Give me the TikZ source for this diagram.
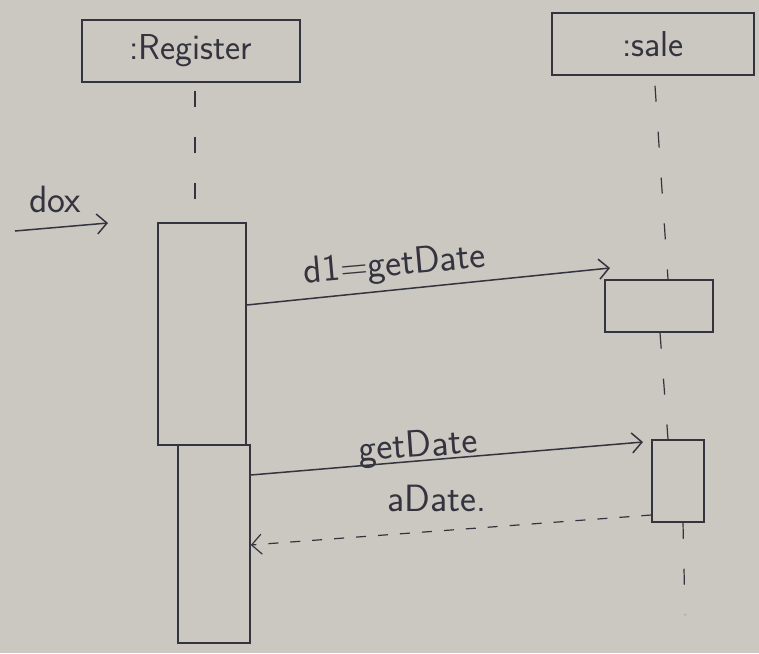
\documentclass[tikz,border=0pt]{standalone}
\usetikzlibrary{arrows.meta}
\definecolor{paper}{HTML}{CBC7C1}
\definecolor{ink}{HTML}{34343F}
\tikzset{
  ink/.style={draw=ink, line width=1.5pt},
  objbox/.style={ink, rectangle, inner sep=0pt, font=\sffamily\fontsize{36}{40}\selectfont, text=ink},
  actbar/.style={ink, rectangle, inner sep=0pt},
  msg/.style={draw=ink, line width=1.5pt, -{Straight Barb[length=10pt,width=20pt,line width=1.5pt]}},
  ret/.style={draw=ink, line width=1.2pt, dash pattern=on 10pt off 12pt, -{Straight Barb[length=10pt,width=20pt,line width=1.2pt]}},
  life/.style={draw=ink, line width=1.2pt, dash pattern=on 16pt off 30pt},
  lbl/.style={font=\sffamily\fontsize{38}{42}\selectfont, text=ink, inner sep=1pt}
}
\begin{document}
\begin{tikzpicture}[x=1pt,y=-1pt]
\fill[paper] (0,0) rectangle (759,653);
\useasboundingbox (0,0) rectangle (759,653);
% objects
\node[objbox, minimum width=218pt, minimum height=62pt] (reg) at (191,51) {:Register};
\node[objbox, minimum width=202pt, minimum height=62pt] (sale) at (653,44) {:sale};
% activation bars
\node[actbar, minimum width=88pt, minimum height=222pt] (a1) at (202,334) {};
\node[actbar, minimum width=72pt, minimum height=198pt] (a2) at (214,544) {};
\node[actbar, minimum width=108pt, minimum height=52pt] (s1) at (659,306) {};
\node[actbar, minimum width=52pt, minimum height=82pt] (s2) at (678,481) {};
% lifelines
\draw[life] (reg.south -| 195,0) ++(0,8) -- (a1.north -| 195,0);
\draw[life] (sale.south -| 655,0) ++(0,10) -- (s1.north -| 668,0);
\draw[life] (s1.south -| 660,0) -- (s2.north -| 668,0);
\draw[life] (s2.south -| 683,0) -- (685,615);
% found message
\coordinate (f0) at (15,231);
\coordinate (f1) at (108,223);
\draw[msg] (f0) -- (f1);
\node[lbl] (dox) at (55,199) {dox};
% messages
\coordinate (m1s) at (a1.east |- 0,305);
\coordinate (m1e) at (610,268);
\draw[msg] (m1s) -- (m1e);
\node[lbl, rotate=5] (l1) at (395,266) {d1=getDate};
\coordinate (m2s) at (a2.east |- 0,475);
\coordinate (m2e) at (643,442);
\draw[msg] (m2s) -- (m2e);
\node[lbl, rotate=4, anchor=base] (l2) at (419,457) {getDate};
\coordinate (r1s) at (s2.west |- 0,515);
\coordinate (r1e) at (a2.east |- 0,545);
\draw[ret] (r1s) -- (r1e);
\node[lbl] (rl) at (437,498) {aDate.};
\end{tikzpicture}
\end{document}
